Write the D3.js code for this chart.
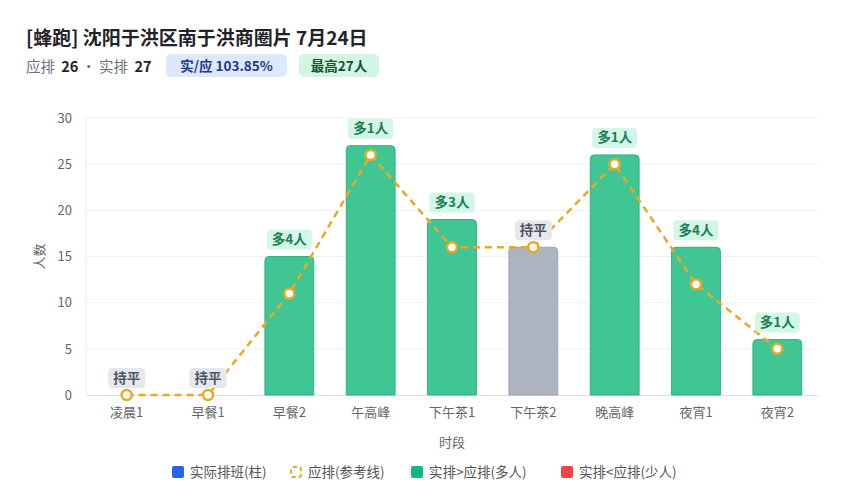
<!DOCTYPE html>
<html>
<head>
<meta charset="utf-8">
<script src="https://cdn.jsdelivr.net/npm/d3@7"></script>
<style>
  body { margin: 0; background: #fff; font-family: "Noto Sans CJK SC", "Noto Sans", sans-serif; }
  svg text { font-family: "Noto Sans CJK SC", "Noto Sans", sans-serif; }
</style>
</head>
<body>
<svg width="849" height="500"></svg>
<script>
"use strict";

const slots = ["凌晨1", "早餐1", "早餐2", "午高峰", "下午茶1", "下午茶2", "晚高峰", "夜宵1", "夜宵2"];
const actual = [0, 0, 15, 27, 19, 16, 26, 16, 6];
const planned = [0, 0, 11, 26, 16, 16, 25, 12, 5];
const yTicks = [0, 5, 10, 15, 20, 25, 30];
const legendItems = ["实际排班(柱)", "应排(参考线)", "实排>应排(多人)", "实排<应排(少人)"];

const svg = d3.select("svg");
const Padding = {TOP: 118, LEFT: 86, RIGHT: 31, BOTTOM: 105};
const W = 849, H = 500;

// header
svg.append("text").attr("x", 26).attr("y", 45)
    .attr("font-size", 19).attr("font-weight", "bold").attr("fill", "#1f2329")
    .text("[蜂跑] 沈阳于洪区南于洪商圈片 7月24日");

const sub = svg.append("text").attr("x", 26).attr("y", 72).attr("font-size", 14.5);
sub.append("tspan").attr("fill", "#6b7280").text("应排 ");
sub.append("tspan").attr("dx", 3).attr("fill", "#1f2329").attr("font-weight", "bold").text("26");
sub.append("tspan").attr("dx", 3).attr("fill", "#6b7280").text("· 实排 ");
sub.append("tspan").attr("dx", 3).attr("fill", "#1f2329").attr("font-weight", "bold").text("27");

const badges = [
    {x: 166, w: 121, bg: "#dce8fb", fg: "#1e3a8a", text: `实/应 ${(27 / 26 * 100).toFixed(2)}%`},
    {x: 299, w: 80, bg: "#d3f5e4", fg: "#14532d", text: `最高${d3.max(actual)}人`}
];
badges.forEach(b => {
    svg.append("rect").attr("x", b.x).attr("y", 54).attr("width", b.w).attr("height", 23)
        .attr("rx", 5).attr("fill", b.bg);
    svg.append("text").attr("x", b.x + b.w / 2).attr("y", 70.5).attr("text-anchor", "middle")
        .attr("font-size", 13.5).attr("font-weight", "bold").attr("fill", b.fg).text(b.text);
});

// scales
const x = d3.scaleBand().domain(slots)
    .range([Padding.LEFT, W - Padding.RIGHT]).paddingInner(0.4).paddingOuter(0.2);
const y = d3.scaleLinear().domain([0, 30]).range([H - Padding.BOTTOM, Padding.TOP]);

// grid
svg.append("g").selectAll("line").data(yTicks.slice(1)).enter().append("line")
    .attr("x1", Padding.LEFT).attr("x2", W - Padding.RIGHT)
    .attr("y1", d => y(d)).attr("y2", d => y(d))
    .attr("stroke", "#f0f0f0");
svg.append("line").attr("x1", Padding.LEFT).attr("x2", Padding.LEFT)
    .attr("y1", Padding.TOP).attr("y2", y(0)).attr("stroke", "#eeeeee");

// y axis
const yAxis = svg.append("g").attr("transform", `translate(${Padding.LEFT},0)`)
    .call(d3.axisLeft(y).tickValues(yTicks).tickSize(0).tickPadding(14));
yAxis.select(".domain").remove();
yAxis.selectAll("text").attr("font-size", 13).attr("fill", "#666");

// x axis
const xAxis = svg.append("g").attr("transform", `translate(0,${y(0)})`)
    .call(d3.axisBottom(x).tickSize(0).tickPadding(13));
xAxis.select(".domain").attr("stroke", "#dddddd");
xAxis.selectAll("text").attr("font-size", 13).attr("fill", "#666");

svg.append("text").attr("x", x.range()[0] + (x.range()[1] - x.range()[0]) / 2).attr("y", 447)
    .attr("text-anchor", "middle").attr("font-size", 13).attr("fill", "#666").text("时段");
svg.append("text").attr("transform", `translate(44 ${y(15)}) rotate(-90)`)
    .attr("text-anchor", "middle").attr("font-size", 13).attr("fill", "#666").text("人数");

// bars with rounded top
function barPath(i) {
    const x0 = x(slots[i]), w = x.bandwidth(), y0 = y(actual[i]), yb = y(0), r = 4;
    if (actual[i] === 0) return "";
    return `M${x0},${yb}V${y0 + r}Q${x0},${y0} ${x0 + r},${y0}H${x0 + w - r}Q${x0 + w},${y0} ${x0 + w},${y0 + r}V${yb}Z`;
}
function state(i) {
    return actual[i] > planned[i] ? "more" : actual[i] < planned[i] ? "less" : "even";
}
const fills = {more: "#3fc692", less: "#ef4444", even: "#aeb3c0"};
const strokes = {more: "#2fb27f", less: "#d33a3a", even: "#9da3b1"};

svg.append("g").selectAll("path").data(slots).enter().append("path")
    .attr("d", (d, i) => barPath(i))
    .attr("fill", (d, i) => fills[state(i)])
    .attr("stroke", (d, i) => strokes[state(i)])
    .attr("stroke-width", 1);

// reference line
const line = d3.line()
    .x((d, i) => x(slots[i]) + x.bandwidth() / 2)
    .y(d => y(d));
svg.append("path").datum(planned)
    .attr("fill", "none").attr("stroke", "#e9a826").attr("stroke-width", 2.5)
    .attr("stroke-dasharray", "7,5").attr("d", line);

svg.append("g").selectAll("circle").data(planned).enter().append("circle")
    .attr("cx", (d, i) => x(slots[i]) + x.bandwidth() / 2)
    .attr("cy", d => y(d)).attr("r", 5)
    .attr("fill", "#fff").attr("stroke", "#e9a826").attr("stroke-width", 2.5);

// diff labels
const labelG = svg.append("g");
slots.forEach((s, i) => {
    const diff = actual[i] - planned[i];
    const txt = diff > 0 ? `多${diff}人` : diff < 0 ? `少${-diff}人` : "持平";
    const st = state(i);
    const cx = x(s) + x.bandwidth() / 2;
    const top = Math.min(y(actual[i]), y(planned[i]));
    const cy = top - 17;
    const w = txt.length === 2 ? 37 : 45;
    labelG.append("rect").attr("x", cx - w / 2).attr("y", cy - 10).attr("width", w).attr("height", 20)
        .attr("rx", 4).attr("fill", st === "more" ? "#d4f6e6" : st === "less" ? "#fde2e2" : "#e6e8ee");
    labelG.append("text").attr("x", cx).attr("y", cy + 4.5).attr("text-anchor", "middle")
        .attr("font-size", 13.5).attr("font-weight", "bold")
        .attr("fill", st === "more" ? "#1b7f55" : st === "less" ? "#b91c1c" : "#4b5563")
        .text(txt);
});

// legend
const legendX = [172, 290, 411, 561];
const legendColors = ["#2563eb", null, "#10b981", "#ef4444"];
const lg = svg.append("g");
legendItems.forEach((t, i) => {
    if (legendColors[i]) {
        lg.append("rect").attr("x", legendX[i]).attr("y", 466).attr("width", 12).attr("height", 12)
            .attr("rx", 2).attr("fill", legendColors[i]);
    } else {
        lg.append("rect").attr("x", legendX[i] + 1).attr("y", 467).attr("width", 10).attr("height", 10)
            .attr("rx", 2).attr("fill", "none").attr("stroke", "#e9a826").attr("stroke-width", 2)
            .attr("stroke-dasharray", "4,3");
    }
    lg.append("text").attr("x", legendX[i] + 18).attr("y", 477).attr("font-size", 13.5)
        .attr("fill", "#555").text(t);
});
</script>
</body>
</html>
